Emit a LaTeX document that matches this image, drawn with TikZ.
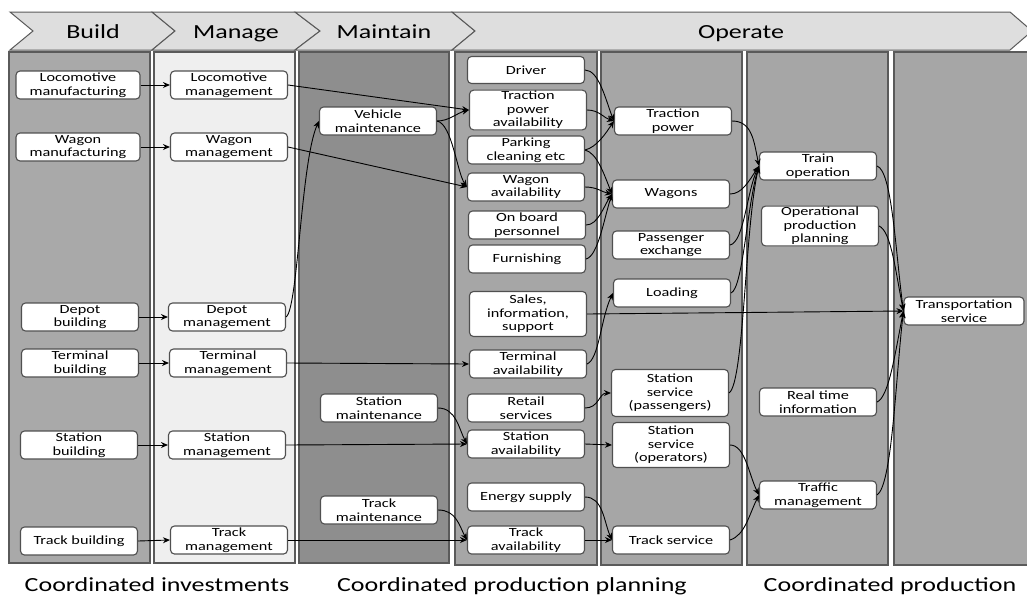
\documentclass[tikz,border=0pt]{standalone}
\usepackage{fontspec}
\setmainfont[FakeStretch=1.3]{Carlito}
\usetikzlibrary{arrows.meta}
\definecolor{buildgray}{HTML}{A9A9A9}
\definecolor{managegray}{HTML}{EFEFEF}
\definecolor{maintgray}{HTML}{8E8E8E}
\definecolor{opgray}{HTML}{A6A6A6}
\definecolor{headgray}{HTML}{DEDEDE}
\definecolor{boxborder}{HTML}{505050}
\definecolor{panelborder}{HTML}{5A5A5A}
\begin{document}
\begin{tikzpicture}[x=1pt,y=-1pt,
  box/.style={draw=boxborder, fill=white, rounded corners=4pt, line width=1.1pt,
    minimum width=117pt, minimum height=28pt, inner sep=1pt, align=center,
    font=\fontsize{12.5}{13.5}\selectfont},
  conn/.style={-{Stealth[length=7pt,width=6pt]}, line width=0.9pt, black},
  panel/.style={draw=panelborder, line width=1.1pt},
  chev/.style={draw=panelborder, fill=headgray, line width=1pt},
  headtext/.style={font=\fontsize{20}{24}\selectfont, anchor=base},
  foottext/.style={font=\fontsize{20}{24}\selectfont, anchor=base}
]
\clip (0,0) rectangle (1027,595);
\fill[white] (0,0) rectangle (1027,595);
% header chevrons
\draw[chev] (10,12) -- (152,12) -- (175,31) -- (152,50) -- (10,50) -- (33,31) -- cycle;
\draw[chev] (152,12) -- (295,12) -- (320,31) -- (295,50) -- (152,50) -- (175,31) -- cycle;
\draw[chev] (295,12) -- (452,12) -- (475,31) -- (452,50) -- (295,50) -- (320,31) -- cycle;
\draw[chev] (452,12) -- (1010,12) -- (1032,31) -- (1010,50) -- (452,50) -- (475,31) -- cycle;
\node[headtext] (hbuild) at (93,38) {Build};
\node[headtext] (hmanage) at (236,38) {Manage};
\node[headtext] (hmaint) at (384,38) {Maintain};
\node[headtext] (hop) at (741,38) {Operate};
% panels
\draw[panel, fill=buildgray] (9,52) rectangle (150,563);
\draw[panel, fill=managegray] (154,52) rectangle (295,563);
\draw[panel, fill=maintgray] (299,52) rectangle (449,563);
\draw[panel, fill=opgray] (455,52) rectangle (597,565);
\draw[panel, fill=opgray] (601,52) rectangle (742,565);
\draw[panel, fill=opgray] (747,52) rectangle (888,565);
\draw[panel, fill=opgray] (894,52) rectangle (1030,565);
% Build
\node[box, minimum width=124pt] (lman) at (78,85) {Locomotive\\manufacturing};
\node[box, minimum width=124pt] (wman) at (78,147) {Wagon\\manufacturing};
\node[box] (dbld) at (80,317) {Depot\\building};
\node[box] (tbld) at (80,363) {Terminal\\building};
\node[box] (sbld) at (79,445) {Station\\building};
\node[box] (trbld) at (79,541) {Track building};
% Manage
\node[box] (lmg) at (229,85) {Locomotive\\management};
\node[box] (wmg) at (229,147) {Wagon\\management};
\node[box] (dmg) at (227,317) {Depot\\management};
\node[box] (tmg) at (228,363) {Terminal\\management};
\node[box] (smg) at (227,445) {Station\\management};
\node[box] (trmg) at (229,540) {Track\\management};
% Maintain
\node[box] (vm) at (378,121) {Vehicle\\maintenance};
\node[box] (sm) at (379,408) {Station\\maintenance};
\node[box] (trm) at (379,510) {Track\\maintenance};
% Operate 1
\node[box, minimum height=27pt] (drv) at (526,70) {Driver};
\node[box] (tpa) at (528,110) {Traction\\power\\availability};
\node[box] (pce) at (526,150) {Parking\\cleaning etc};
\node[box] (wa) at (526,187) {Wagon\\availability};
\node[box] (obp) at (527,225) {On board\\personnel};
\node[box] (fur) at (527,259) {Furnishing};
\node[box, minimum height=45pt] (sis) at (528,314) {Sales,\\information,\\support};
\node[box] (ta) at (528,364) {Terminal\\availability};
\node[box] (rs) at (526,408) {Retail\\services};
\node[box] (sa) at (526,444) {Station\\availability};
\node[box] (es) at (526,497) {Energy supply};
\node[box] (tra) at (526,540) {Track\\availability};
% Operate 2
\node[box] (tp) at (673,121) {Traction\\power};
\node[box] (wg) at (671,194) {Wagons};
\node[box] (pe) at (671,245) {Passenger\\exchange};
\node[box] (ld) at (672,293) {Loading};
\node[box, minimum height=47pt] (ssp) at (670,393) {Station\\service\\(passengers)};
\node[box, minimum height=45pt] (sso) at (671,445) {Station\\service\\(operators)};
\node[box] (ts) at (671,540) {Track service};
% Operate 3
\node[box] (trop) at (818,166) {Train\\operation};
\node[box] (opp) at (820,226) {Operational\\production\\planning};
\node[box] (rti) at (818,402) {Real time\\information};
\node[box] (tm) at (818,495) {Traffic\\management};
% Operate 4
\node[box, minimum width=120pt] (tsv) at (964,311) {Transportation\\service};
% footer
\node[foottext] (f1) at (157,591) {Coordinated investments};
\node[foottext] (f2) at (512,591) {Coordinated production planning};
\node[foottext] (f3) at (890,591) {Coordinated production};
% connectors build -> manage
\draw[conn] (lman.east) -- (lmg.west);
\draw[conn] (wman.east) -- (wmg.west);
\draw[conn] (dbld.east) -- (dmg.west);
\draw[conn] (tbld.east) -- (tmg.west);
\draw[conn] (sbld.east) -- (smg.west);
\draw[conn] (trbld.east) -- (trmg.west);
% manage -> further
\draw[conn] (lmg.east) -- (tpa.west);
\draw[conn] (wmg.east) -- (wa.west);
\draw[conn] (dmg.east) .. controls +(12,-8) and +(-18,40) .. (vm.west);
\draw[conn] (tmg.east) -- (ta.west);
\draw[conn] (smg.east) -- (sa.west);
\draw[conn] (trmg.east) -- (tra.west);
% maintain -> op1
\draw[conn] (vm.east) .. controls +(12,0) and +(-12,3) .. (tpa.west);
\draw[conn] (vm.east) .. controls +(15,3) and +(-10,-15) .. (wa.west);
\draw[conn] (sm.east) .. controls +(18,0) and +(-8,-15) .. (sa.west);
\draw[conn] (trm.east) .. controls +(18,0) and +(-8,-15) .. (tra.west);
% op1 -> op2
\draw[conn] (drv.east) .. controls +(14,0) and +(-8,-20) .. (tp.west);
\draw[conn] (tpa.east) .. controls +(12,0) and +(-10,-3) .. (tp.west);
\draw[conn] (pce.east) .. controls +(12,-3) and +(-8,12) .. (tp.west);
\draw[conn] (pce.east) .. controls +(12,3) and +(-8,-20) .. (wg.west);
\draw[conn] (wa.east) .. controls +(12,0) and +(-10,-2) .. (wg.west);
\draw[conn] (obp.east) .. controls +(12,0) and +(-8,12) .. (wg.west);
\draw[conn] (fur.east) .. controls +(12,-3) and +(-8,25) .. (wg.west);
\draw[conn] (ta.east) .. controls +(12,-5) and +(-12,25) .. (ld.west);
\draw[conn] (rs.east) .. controls +(14,0) and +(-12,0) .. (ssp.west);
\draw[conn] (sa.east) -- (sso.west);
\draw[conn] (es.east) .. controls +(18,0) and +(-8,-18) .. (ts.west);
\draw[conn] (tra.east) -- (ts.west);
\draw[conn] (sis.east) -- (tsv.west);
% op2 -> op3
\draw[conn] (tp.east) .. controls +(20,0) and +(-5,-25) .. (trop.west);
\draw[conn] (wg.east) .. controls +(12,0) and +(-10,15) .. (trop.west);
\draw[conn] (pe.east) .. controls +(14,-3) and +(-12,25) .. (trop.west);
\draw[conn] (ld.east) .. controls +(12,-5) and +(-12,40) .. (trop.west);
\draw[conn] (ssp.east) .. controls +(15,-10) and +(-14,60) .. (trop.west);
\draw[conn] (sso.east) .. controls +(15,0) and +(-10,-20) .. (tm.west);
\draw[conn] (ts.east) .. controls +(15,-5) and +(-10,20) .. (tm.west);
% op3 -> op4
\draw[conn] (trop.east) .. controls +(15,5) and +(-8,-60) .. (tsv.west);
\draw[conn] (opp.east) .. controls +(12,5) and +(-8,-40) .. (tsv.west);
\draw[conn] (rti.east) .. controls +(12,-5) and +(-8,40) .. (tsv.west);
\draw[conn] (tm.east) .. controls +(15,-10) and +(-8,70) .. (tsv.west);
\end{tikzpicture}
\end{document}
